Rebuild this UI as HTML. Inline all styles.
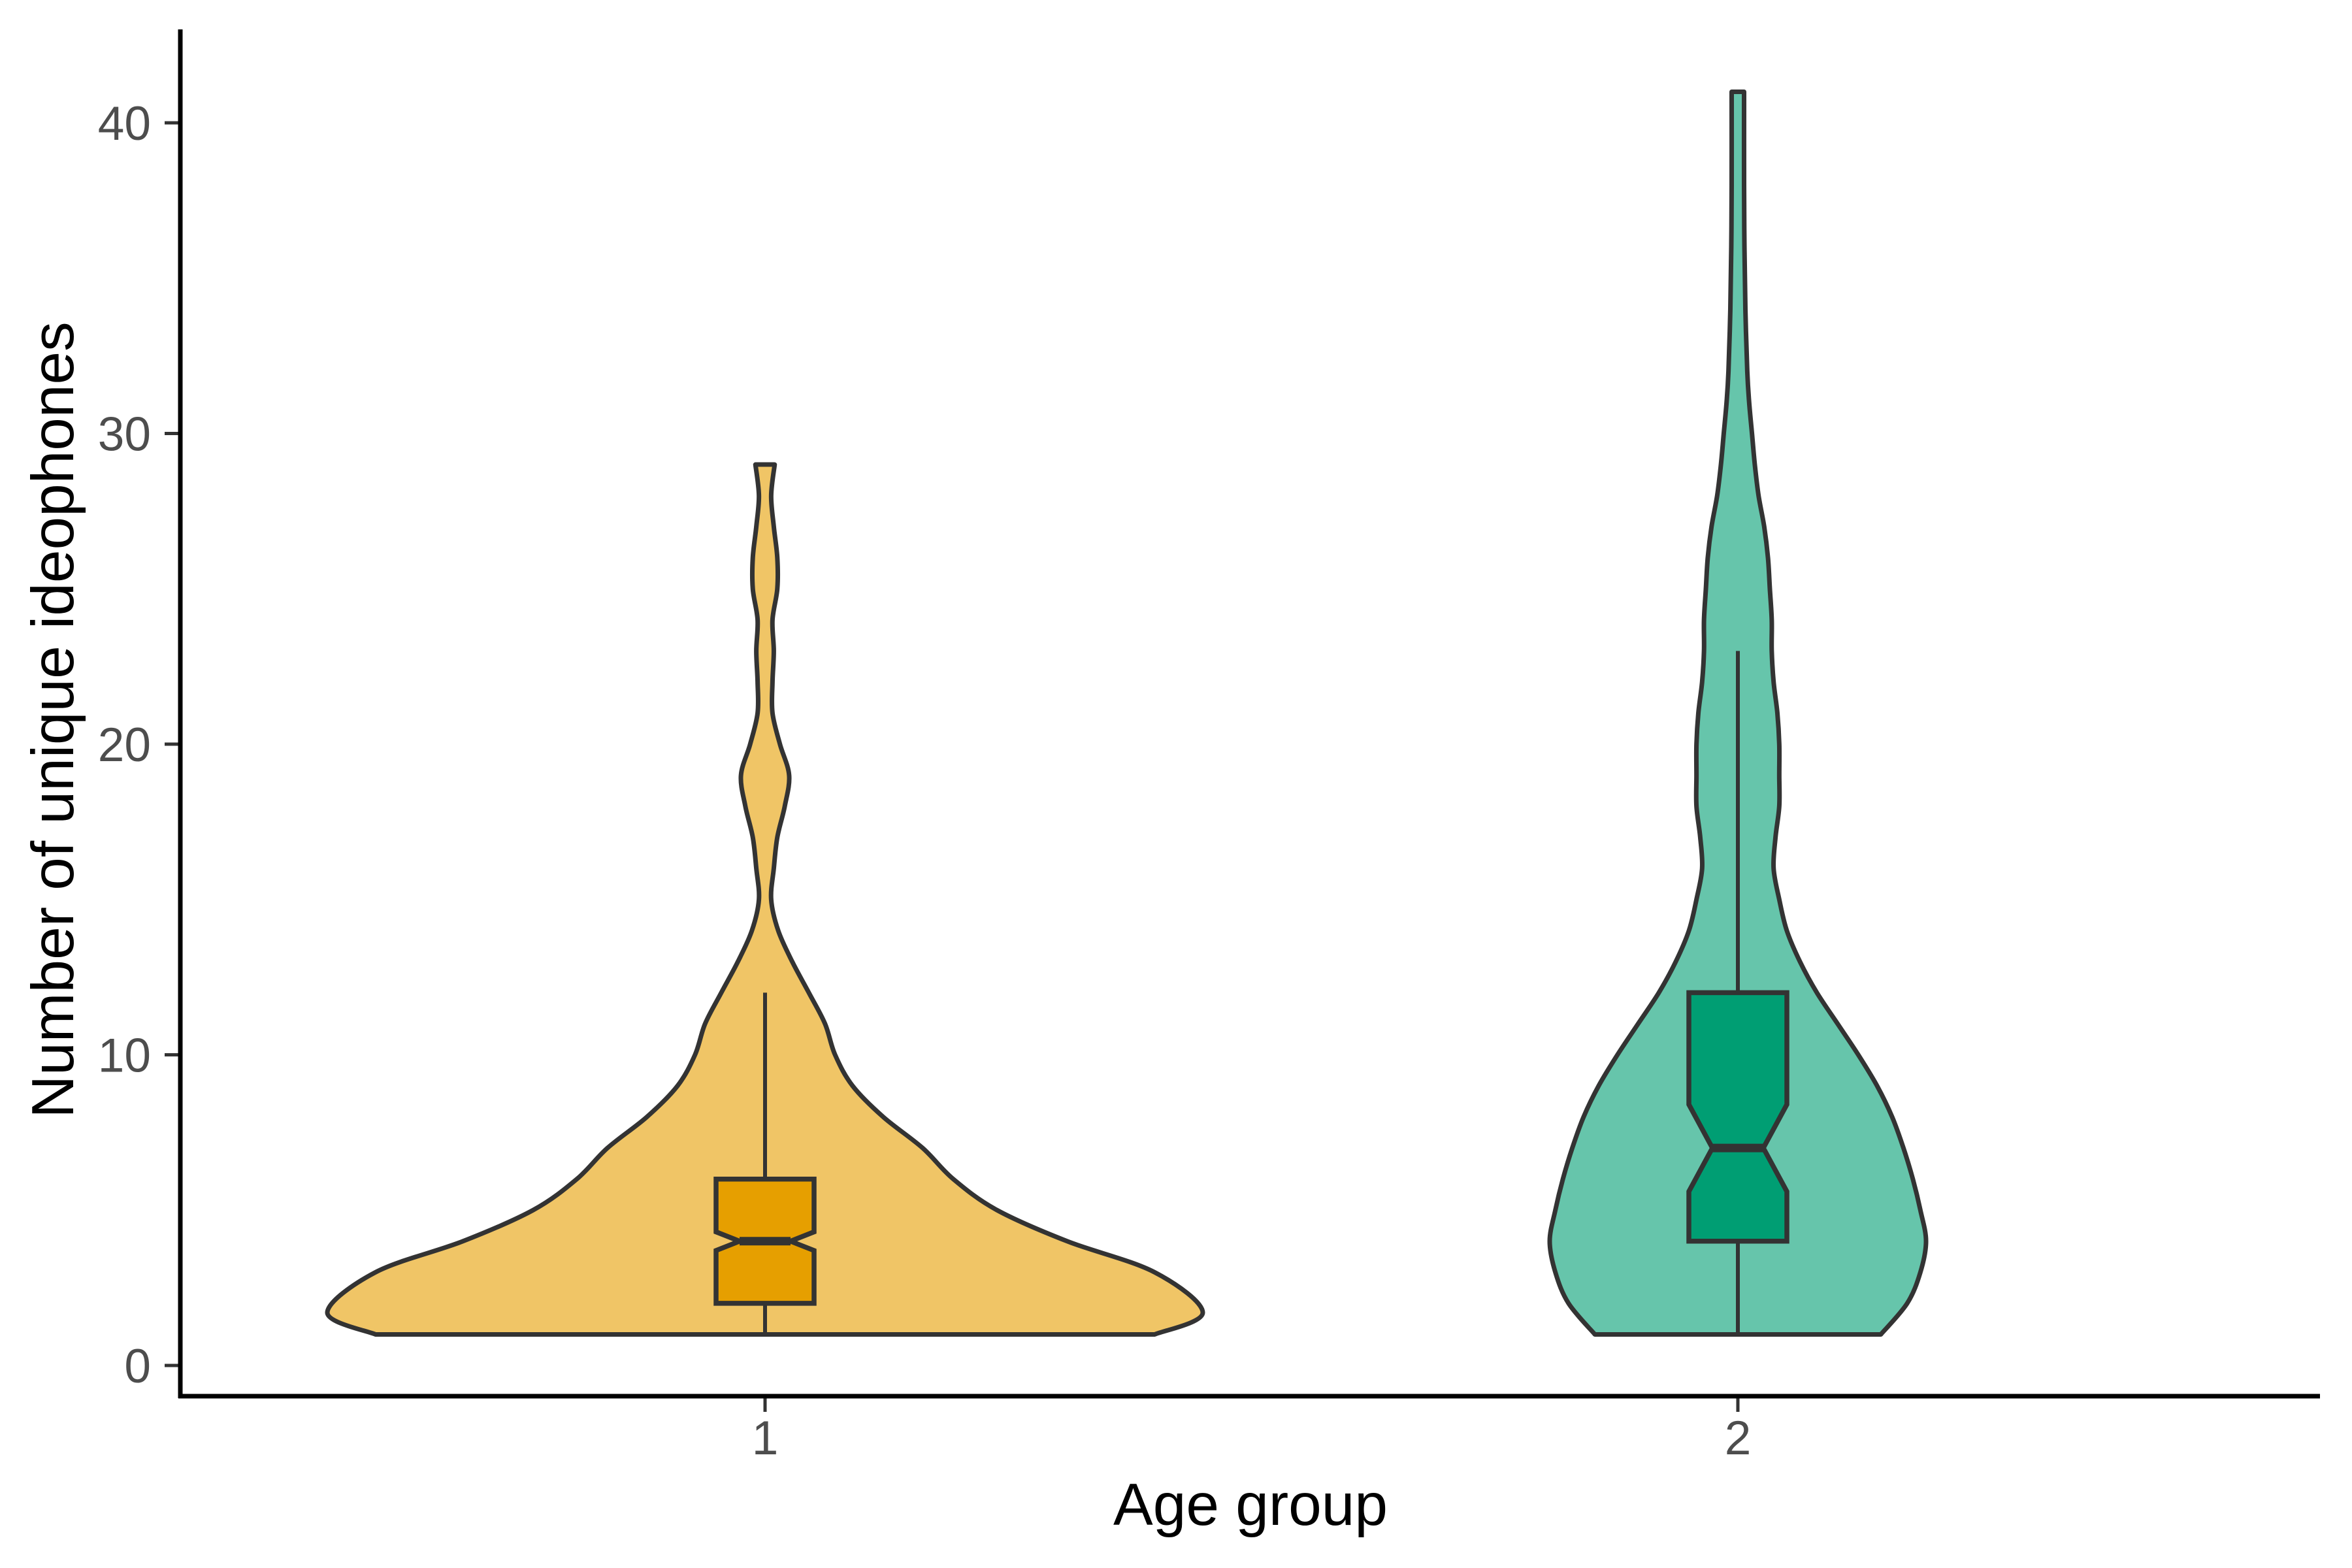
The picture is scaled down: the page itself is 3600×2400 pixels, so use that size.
<!DOCTYPE html>
<html><head><meta charset="utf-8"><style>
html,body{margin:0;padding:0;background:#fff}
svg{display:block}
text{font-family:"Liberation Sans",Arial,sans-serif}
</style></head><body>
<svg id="chart" width="3600" height="2400" viewBox="0 0 3600 2400" xmlns="http://www.w3.org/2000/svg">
<g id="plot"></g>
<g id="axes"></g>
</svg>
<script>
const categories = ["1", "2"];
const yTicks = [0, 10, 20, 30, 40];
// violin profile: y values and relative half-widths
const v1Y = [1,1.7,3,4,5,6,7,8,9,10,11,12,13,14,15,16,17,18,19,20,21,22,23,24,25,26,27,28,29];
const v1W = [0.89,1.0,0.89,0.69,0.53,0.43,0.36,0.27,0.2,0.16,0.137,0.1,0.062,0.03,0.014,0.02,0.028,0.045,0.055,0.034,0.017,0.017,0.02,0.017,0.028,0.028,0.02,0.014,0.022];
const v2Y = [1,2,3,4,5,6,7,8,9,10,11,12,13,14,15,16,17,18,19,20,21,22,23,24,25,26,27,28,29,30,31,32,34,36,38,41];
const v2W = [0.76,0.9,0.97,1,0.97,0.93,0.88,0.82,0.74,0.64,0.53,0.42,0.33,0.26,0.22,0.19,0.2,0.22,0.22,0.22,0.21,0.19,0.18,0.18,0.17,0.16,0.14,0.11,0.09,0.075,0.06,0.05,0.04,0.035,0.033,0.033];
const boxMin = [1, 1];
const boxQ1 = [2, 4];
const boxMed = [4, 7];
const boxQ3 = [6, 12];
const boxMax = [12, 23];
const notchLo = [3.7, 5.6];
const notchHi = [4.3, 8.4];

const NS = "http://www.w3.org/2000/svg";
const X0 = 276, XR = 3551, YB = 2137, YT = 45;
const yPix = v => 2090 - v * (2090 - 188) / 40;
const xPix = i => [1171, 2660][i];
const maxHW = [670, 288];
const fills = ["#F0C566", "#66C5AB"];
const boxFills = ["#E69F00", "#009E73"];
const plot = document.getElementById("plot");
const axes = document.getElementById("axes");
function mk(tag, attrs, parent) {
  const e = document.createElementNS(NS, tag);
  for (const k in attrs) e.setAttribute(k, attrs[k]);
  parent.appendChild(e);
  return e;
}
function smooth(pts) {
  let d = "M" + pts[0][0] + "," + pts[0][1];
  for (let i = 0; i < pts.length - 1; i++) {
    const p0 = pts[Math.max(0, i - 1)], p1 = pts[i], p2 = pts[i + 1], p3 = pts[Math.min(pts.length - 1, i + 2)];
    const c1 = [p1[0] + (p2[0] - p0[0]) / 6, p1[1] + (p2[1] - p0[1]) / 6];
    const c2 = [p2[0] - (p3[0] - p1[0]) / 6, p2[1] - (p3[1] - p1[1]) / 6];
    d += " C" + c1[0] + "," + c1[1] + " " + c2[0] + "," + c2[1] + " " + p2[0] + "," + p2[1];
  }
  return d;
}
function violinPath(i, ys, ws) {
  const cx = xPix(i), s = maxHW[i];
  const right = ys.map((y, k) => [cx + ws[k] * s, yPix(y)]);
  const left = ys.map((y, k) => [cx - ws[k] * s, yPix(y)]).reverse();
  let d = smooth(right);
  d += " L" + left[0][0] + "," + left[0][1];
  d += smooth(left).replace(/^M[^C]*/, " ");
  return d + " Z";
}
const vData = [[v1Y, v1W], [v2Y, v2W]];
categories.forEach((c, i) => {
  const v = mk("path", {d: violinPath(i, vData[i][0], vData[i][1]), fill: fills[i], stroke: "#333333", "stroke-width": 7, "stroke-linejoin": "round"}, plot);
  
  
  const cx = xPix(i), hw = 75, nw = 39;
  const w = mk("line", {x1: cx, x2: cx, y1: yPix(boxMin[i]), y2: yPix(boxQ1[i]), stroke: "#333333", "stroke-width": 6}, plot);
  
  
  const w2 = mk("line", {x1: cx, x2: cx, y1: yPix(boxQ3[i]), y2: yPix(boxMax[i]), stroke: "#333333", "stroke-width": 6}, plot);
  
  
  const pts = [
    [cx - hw, yPix(boxQ1[i])], [cx + hw, yPix(boxQ1[i])], [cx + hw, yPix(notchLo[i])],
    [cx + nw, yPix(boxMed[i])], [cx + hw, yPix(notchHi[i])], [cx + hw, yPix(boxQ3[i])],
    [cx - hw, yPix(boxQ3[i])], [cx - hw, yPix(notchHi[i])], [cx - nw, yPix(boxMed[i])],
    [cx - hw, yPix(notchLo[i])]
  ];
  const b = mk("polygon", {points: pts.map(p => p.join(",")).join(" "), fill: boxFills[i], stroke: "#333333", "stroke-width": 7.5, "stroke-linejoin": "miter"}, plot);
  
  
  const m = mk("line", {x1: cx - nw, x2: cx + nw, y1: yPix(boxMed[i]), y2: yPix(boxMed[i]), stroke: "#333333", "stroke-width": 13}, plot);
  
  
  const t = mk("line", {x1: cx, x2: cx, y1: YB, y2: YB + 24, stroke: "#333333", "stroke-width": 5}, axes);
  
  
  const tl = mk("text", {x: cx, y: 2226, "text-anchor": "middle", "font-size": 73, fill: "#4d4d4d"}, axes);
  tl.textContent = c;
  
  
});
yTicks.forEach(v => {
  const y = yPix(v);
  const t = mk("line", {x1: 252, x2: X0, y1: y, y2: y, stroke: "#333333", "stroke-width": 5}, axes);
  
  
  const tl = mk("text", {x: 231, y: y + 26, "text-anchor": "end", "font-size": 73, fill: "#4d4d4d"}, axes);
  tl.textContent = v;
  
  
});
const ya = mk("line", {x1: X0, x2: X0, y1: YT, y2: YB + 3, stroke: "#000", "stroke-width": 7}, axes);


const xa = mk("line", {x1: X0 - 3, x2: XR, y1: YB, y2: YB, stroke: "#000", "stroke-width": 7}, axes);


const xt = mk("text", {x: 1914, y: 2334, "text-anchor": "middle", "font-size": 91, fill: "#000"}, axes);
xt.textContent = "Age group";


const yt = mk("text", {x: 0, y: 0, "text-anchor": "middle", "font-size": 91, fill: "#000", transform: "translate(112,1102) rotate(-90)"}, axes);
yt.textContent = "Number of unique ideophones";


</script>
</body></html>
